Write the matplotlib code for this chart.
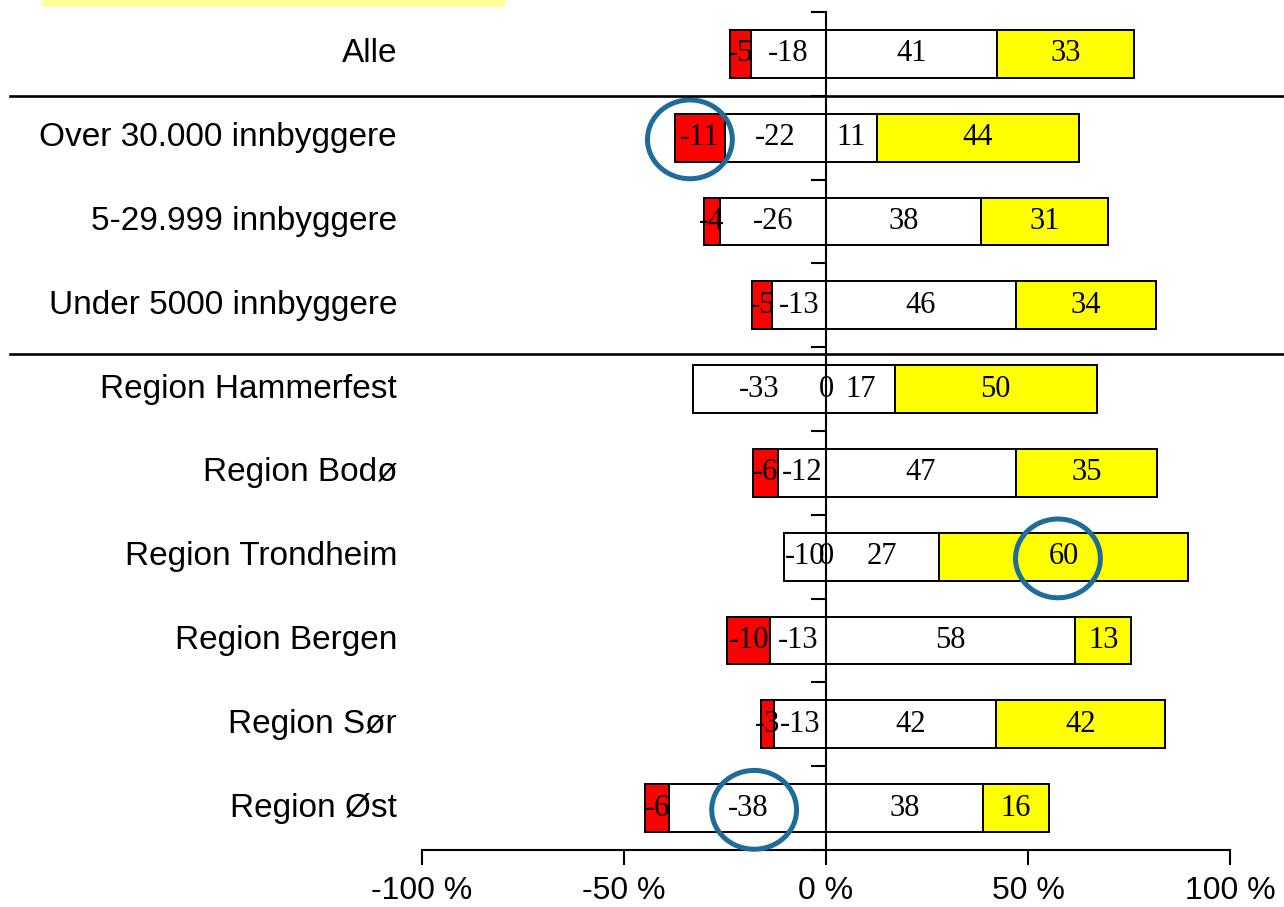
import numpy as np
import matplotlib.pyplot as plt
import matplotlib.transforms as mtransforms
from matplotlib.patches import Ellipse, Rectangle
from matplotlib.lines import Line2D

categories = ['Alle', 'Over 30.000 innbyggere', '5-29.999 innbyggere',
              'Under 5000 innbyggere', 'Region Hammerfest', 'Region Bodø',
              'Region Trondheim', 'Region Bergen', 'Region Sør', 'Region Øst']
# svært negativ / negativ / positiv / svært positiv
very_neg = [-5, -11, -4, -5, 0, -6, 0, -10, -3, -6]
neg = [-18, -22, -26, -13, -33, -12, -10, -13, -13, -38]
pos = [41, 11, 38, 46, 17, 47, 27, 58, 42, 38]
very_pos = [33, 44, 31, 34, 50, 35, 60, 13, 42, 16]

# markings drawn on the chart (x in %, row index from top)
circle_x = [-33.7, 57.4, -17.8]
circle_row = [1, 6, 9]

ticks = [-100, -50, 0, 50, 100]

sans = 'Liberation Sans'
serif = 'Liberation Serif'

vn = np.array(very_neg, float)
n = np.array(neg, float)
p = np.array(pos, float)
vp = np.array(very_pos, float)
total = np.abs(vn) + np.abs(n) + p + vp
# bars are scaled to 100 %
vn_s = vn / total * 100
n_s = n / total * 100
p_s = p / total * 100
vp_s = vp / total * 100

y = np.arange(len(categories))[::-1]

fig = plt.figure(figsize=(12.84, 9.07), dpi=100)
ax = fig.add_axes([0.3287, 0.0628, 0.6293, 0.924])

h = 0.57
kw = dict(height=h, edgecolor='black', linewidth=1.4)
ax.barh(y, n_s, left=0, color='white', **kw)
vn_left = np.where(vn_s < 0, n_s, 0)
ax.barh(y, vn_s, left=vn_left, color='#FF0000', **kw)
ax.barh(y, p_s, left=0, color='white', **kw)
ax.barh(y, vp_s, left=p_s, color='#FFFF00', **kw)

lab = dict(ha='center', va='center', fontsize=22, family=serif, zorder=4)
for i in range(len(categories)):
    ax.text(vn_left[i] + vn_s[i] / 2, y[i], '%d' % very_neg[i], **lab)
    ax.text(n_s[i] / 2, y[i], '%d' % neg[i], **lab)
    ax.text(p_s[i] / 2, y[i], '%d' % pos[i], **lab)
    ax.text(p_s[i] + vp_s[i] / 2, y[i], '%d' % very_pos[i], **lab)

ax.set_xlim(-100, 100)
ax.set_ylim(-0.5, len(categories) - 0.5)

ax.spines['top'].set_visible(False)
ax.spines['right'].set_visible(False)
ax.spines['left'].set_position(('data', 0))
ax.spines['left'].set_linewidth(1.5)
ax.spines['bottom'].set_linewidth(1.5)

ax.set_xticks(ticks)
ax.set_xticklabels(['%d %%' % t for t in ticks], fontsize=23, family=sans)
ax.tick_params(axis='x', direction='out', length=11, width=1.5, pad=8)
ax.set_yticks(np.arange(-0.5, len(categories), 1.0))
ax.set_yticklabels([])
ax.tick_params(axis='y', direction='out', length=11, width=1.5)

tr = mtransforms.blended_transform_factory(ax.transAxes, ax.transData)
for i, c in enumerate(categories):
    ax.text(-0.031, y[i], c, transform=tr, ha='right', va='center',
            fontsize=24, family=sans)

# group separators
trf = mtransforms.blended_transform_factory(fig.transFigure, ax.transData)
for yy in [8.5, 5.42]:
    fig.add_artist(Line2D([10 / 1284, 1.0], [yy, yy], transform=trf,
                          color='black', linewidth=1.9))

for cx, r in zip(circle_x, circle_row):
    ax.add_patch(Ellipse((cx, y[r] - 0.02), 21, 0.94, fill=False,
                         edgecolor='#1F6B9B', linewidth=3.6, zorder=5,
                         clip_on=False))

# cut-off text box at the top
fig.add_artist(Rectangle((42 / 1284, 1 - 7 / 907), 463 / 1284, 7 / 907,
                         transform=fig.transFigure, facecolor='#FFFF99',
                         edgecolor='none'))

fig.savefig('out.png', dpi=100)
